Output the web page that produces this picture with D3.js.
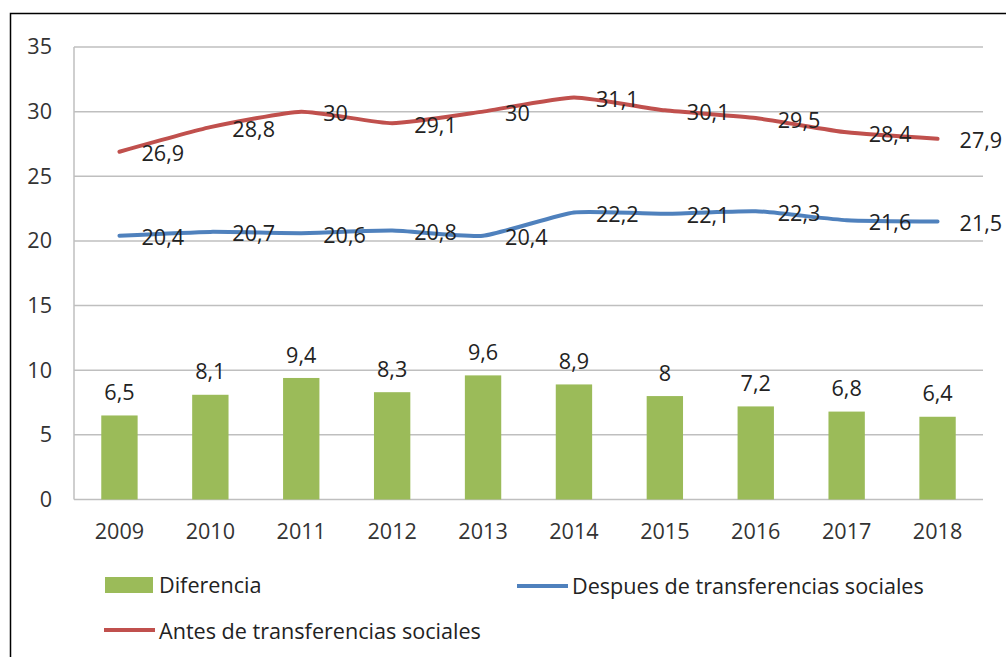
<!DOCTYPE html>
<html>
<head>
<meta charset="utf-8">
<script src="https://cdn.jsdelivr.net/npm/d3@7"></script>
<style>
    body { margin: 0; background: #fff; }
    svg { display: block; font-family: "Open Sans", sans-serif; }
</style>
</head>
<body>
<div id="chart"></div>
<script>
// Data
const years = ['2009', '2010', '2011', '2012', '2013', '2014', '2015', '2016', '2017', '2018'];
const antes = [26.9, 28.8, 30, 29.1, 30, 31.1, 30.1, 29.5, 28.4, 27.9];
const despues = [20.4, 20.7, 20.6, 20.8, 20.4, 22.2, 22.1, 22.3, 21.6, 21.5];
const diferencia = [6.5, 8.1, 9.4, 8.3, 9.6, 8.9, 8, 7.2, 6.8, 6.4];
const yTicks = [0, 5, 10, 15, 20, 25, 30, 35];

const colors = { bar: '#9BBB59', antes: '#C0504D', despues: '#4F81BD' };
const fontSize = 21.6;

const width = 1006, height = 657;
const margin = { top: 47, right: 23, bottom: 157.5, left: 74 };

const svg = d3.select('#chart')
    .append('svg')
    .attr('width', width)
    .attr('height', height);

// Frame around the chart (only left and top edges show in the picture)
svg.append('path')
    .attr('d', `M10.5,${height} V13.5 H${width}`)
    .attr('fill', 'none')
    .attr('stroke', '#000')
    .attr('stroke-width', 1.5);

const x = d3.scaleBand()
    .domain(years)
    .range([margin.left, width - margin.right])
    .paddingInner(0.6)
    .paddingOuter(0.3);

const xc = d => x(d) + x.bandwidth() / 2;

const y = d3.scaleLinear()
    .domain([0, 35])
    .range([height - margin.bottom, margin.top]);

const fmt = d3.formatLocale({ decimal: ',', thousands: '.', grouping: [3], currency: ['', ''] }).format('.1~f');

// Gridlines
svg.append('g')
    .selectAll('line')
    .data(yTicks)
    .join('line')
    .attr('x1', margin.left)
    .attr('x2', width - margin.right)
    .attr('y1', d => y(d))
    .attr('y2', d => y(d))
    .attr('stroke', '#BFBFBF')
    .attr('stroke-width', 1.5);

// Vertical axis line
svg.append('line')
    .attr('x1', margin.left)
    .attr('x2', margin.left)
    .attr('y1', y(35))
    .attr('y2', y(0))
    .attr('stroke', '#BFBFBF')
    .attr('stroke-width', 1.5);

// Y axis labels
const yAxis = svg.append('g')
    .attr('transform', `translate(${margin.left - 22},0)`)
    .call(d3.axisLeft(y).tickValues(yTicks).tickSize(0).tickPadding(0));
yAxis.select('.domain').remove();
yAxis.selectAll('text')
    .attr('font-size', fontSize)
    .attr('font-family', '"Open Sans", sans-serif')
    .attr('fill', '#333');

// X axis labels
const xAxis = svg.append('g')
    .attr('transform', `translate(0,${y(0)})`)
    .call(d3.axisBottom(x).tickSize(0).tickPadding(24));
xAxis.select('.domain').remove();
xAxis.selectAll('text')
    .attr('font-size', fontSize)
    .attr('font-family', '"Open Sans", sans-serif')
    .attr('fill', '#333');

// Bars
svg.append('g')
    .selectAll('rect')
    .data(years)
    .join('rect')
    .attr('x', d => x(d))
    .attr('width', x.bandwidth())
    .attr('y', (d, i) => y(diferencia[i]))
    .attr('height', (d, i) => y(0) - y(diferencia[i]))
    .attr('fill', colors.bar);

// Lines (Excel-style smoothing)
const line = d3.line()
    .x((d, i) => xc(years[i]))
    .y(d => y(d))
    .curve(d3.curveCardinal.tension(0.5));

[[antes, colors.antes], [despues, colors.despues]].forEach(([vals, color]) => {
    svg.append('path')
        .datum(vals)
        .attr('d', line)
        .attr('fill', 'none')
        .attr('stroke', color)
        .attr('stroke-width', 4)
        .attr('stroke-linejoin', 'round')
        .attr('stroke-linecap', 'round');
});

// Data labels
svg.append('g')
    .selectAll('text')
    .data(diferencia)
    .join('text')
    .attr('x', (d, i) => xc(years[i]))
    .attr('y', d => y(d) - 23)
    .attr('dy', '0.35em')
    .attr('text-anchor', 'middle')
    .attr('font-size', fontSize)
    .attr('fill', '#222')
    .text(d => fmt(d));

[antes, despues].forEach(vals => {
    svg.append('g')
        .selectAll('text')
        .data(vals)
        .join('text')
        .attr('x', (d, i) => xc(years[i]) + 22)
        .attr('y', d => y(d) + 2)
        .attr('dy', '0.35em')
        .attr('font-size', fontSize)
        .attr('fill', '#222')
        .text(d => fmt(d));
});

// Legend
const legend = svg.append('g').attr('font-size', fontSize).attr('fill', '#222');

legend.append('rect')
    .attr('x', 105).attr('y', 577)
    .attr('width', 48).attr('height', 16)
    .attr('fill', colors.bar);
legend.append('text')
    .attr('x', 159).attr('y', 585).attr('dy', '0.35em')
    .text('Diferencia');

legend.append('line')
    .attr('x1', 517).attr('x2', 568)
    .attr('y1', 586).attr('y2', 586)
    .attr('stroke', colors.despues).attr('stroke-width', 4);
legend.append('text')
    .attr('x', 572).attr('y', 586).attr('dy', '0.35em')
    .text('Despues de transferencias sociales');

legend.append('line')
    .attr('x1', 104).attr('x2', 155)
    .attr('y1', 630).attr('y2', 630)
    .attr('stroke', colors.antes).attr('stroke-width', 4);
legend.append('text')
    .attr('x', 159).attr('y', 631).attr('dy', '0.35em')
    .text('Antes de transferencias sociales');
</script>
</body>
</html>
